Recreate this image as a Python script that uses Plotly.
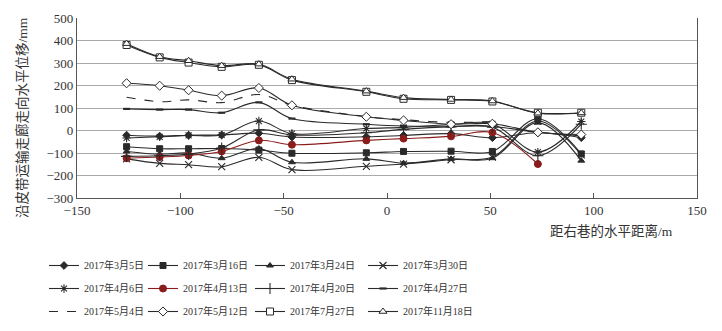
import plotly.graph_objects as go

# Horizontal distance from the right roadway (m)
distance_m = [-126, -110, -96, -80, -62, -46, -10, 8, 31, 51, 73, 94]

# Horizontal displacement along the belt-conveyor corridor (mm), one list per survey date
d_0305 = [-21, -25, -21, -20, -12, -29, -28, -22, -14, -32, -10, -32]
d_0316 = [-72, -81, -81, -80, -87, -101, -99, -93, -92, -93, 52, -104]
d_0324 = [-93, -105, -100, -123, -80, -141, -126, -145, -126, -123, 35, -134]
d_0330 = [-126, -146, -152, -161, -119, -174, -159, -149, -130, -118, 42, -108]
d_0406 = [-33, -28, -22, -20, 42, -14, 9, 14, 27, 30, -96, 40]
d_0413 = [-123, -118, -111, -93, -44, -63, -44, -36, -26, -9, -149, None]
d_0420 = [-115, -112, -105, -78, 3, -20, -10, 5, 16, 15, -112, 28]
d_0427 = [96, 93, 93, 79, 125, 53, 28, 20, 19, 18, -8, -24]
d_0504 = [148, 128, 136, 124, 160, 112, 62, 48, 36, 40, None, None]
d_0512 = [210, 199, 179, 155, 189, 112, 61, 45, 28, 30, -8, -18]
d_0727 = [380, 325, 302, 283, 292, 224, 172, 141, 136, 129, 79, 79]
d_1118 = [386, 328, 310, 288, 295, 228, 175, 146, 138, 131, 77, 78]

dates = ["2017年3月5日", "2017年3月16日", "2017年3月24日", "2017年3月30日",
         "2017年4月6日", "2017年4月13日", "2017年4月20日", "2017年4月27日",
         "2017年5月4日", "2017年5月12日", "2017年7月27日", "2017年11月18日"]
series = [d_0305, d_0316, d_0324, d_0330, d_0406, d_0413, d_0420, d_0427,
          d_0504, d_0512, d_0727, d_1118]

INK = "#2a2a2a"
RED = "#8b1c1c"
# (symbol, size, fill, outline colour, outline width, dash)
styles = [
    ("diamond", 6, INK, INK, 1, "solid"),
    ("square", 6, INK, INK, 1, "solid"),
    ("triangle-up", 6, INK, INK, 1, "solid"),
    ("x-thin-open", 7, INK, INK, 1.1, "solid"),
    ("asterisk-open", 7, INK, INK, 1.1, "solid"),
    ("circle", 7, RED, RED, 1, "solid"),
    ("cross-thin-open", 8, INK, INK, 1.1, "solid"),
    ("line-ew-open", 5, INK, INK, 2.2, "solid"),
    (None, 0, INK, INK, 1, "dash"),
    ("diamond", 7, "white", INK, 1, "solid"),
    ("square", 7, "white", INK, 1, "solid"),
    ("triangle-up", 7, "white", INK, 1, "solid"),
]

SERIF = "Liberation Serif, Noto Sans CJK SC, serif"

# plot area in pixels
W, H = 722, 331
PL, PR, PT, PB = 77, 697, 18, 198
PW, PH = PR - PL, PB - PT


def px_x(v):
    return (v - PL) / PW


def px_y(v):
    return (PB - v) / PH


fig = go.Figure()
legend_ids = ["legend", "legend2", "legend3", "legend4"]
for i, (name, ys, st) in enumerate(zip(dates, series, styles)):
    sym, size, fill, col, lw, dash = st
    kw = {}
    if sym is None:
        mode = "lines"
    else:
        mode = "lines+markers"
        kw["marker"] = dict(symbol=sym, size=size, color=fill,
                            line=dict(color=col, width=lw))
    fig.add_trace(go.Scatter(
        x=distance_m, y=ys, name=name, mode=mode,
        line=dict(color=col, width=1.1, shape="spline", smoothing=1.0, dash=dash),
        legend=legend_ids[i % 4], legendgroup=name, **kw))

col_left = [44, 143, 250, 363]
leg_common = dict(orientation="v", xanchor="left", yanchor="top", tracegroupgap=4,
                  font=dict(family=SERIF, size=10, color="#333"),
                  bgcolor="rgba(0,0,0,0)", borderwidth=0, itemwidth=30)
legends = {}
for k, lid in enumerate(legend_ids):
    legends[lid] = dict(x=px_x(col_left[k]), y=px_y(251), **leg_common)

fig.update_layout(
    width=W, height=H,
    margin=dict(l=PL, r=W - PR, t=PT, b=H - PB, autoexpand=False),
    paper_bgcolor="white", plot_bgcolor="white",
    font=dict(family=SERIF, size=12, color="#333"),
    showlegend=True,
    **legends,
)

fig.update_xaxes(
    range=[-150, 150], dtick=50, tick0=-150,
    showgrid=False, zeroline=False,
    showline=True, linecolor="#555", linewidth=1.2, mirror=False,
    ticks="inside", ticklen=5, tickcolor="#555",
    tickfont=dict(family=SERIF, size=13, color="#333"),
)
fig.update_yaxes(
    range=[-300, 500], dtick=100, tick0=-300,
    showgrid=True, gridcolor="#aaaaaa", gridwidth=1.4, zeroline=False,
    showline=True, linecolor="#555", linewidth=1.2, mirror=True,
    ticks="", tickfont=dict(family=SERIF, size=13, color="#333"),
)

fig.add_annotation(text="沿皮带运输走廊走向水平位移/mm", textangle=-90,
                   xref="paper", yref="paper", x=px_x(22), y=px_y(118),
                   xanchor="center", yanchor="middle", showarrow=False,
                   font=dict(family=SERIF, size=13.5, color="#333"))
fig.add_annotation(text="距右巷的水平距离/m",
                   xref="paper", yref="paper", x=px_x(675), y=px_y(231),
                   xanchor="right", yanchor="middle", showarrow=False,
                   font=dict(family=SERIF, size=13.5, color="#333"))

fig.write_html("out.html")
